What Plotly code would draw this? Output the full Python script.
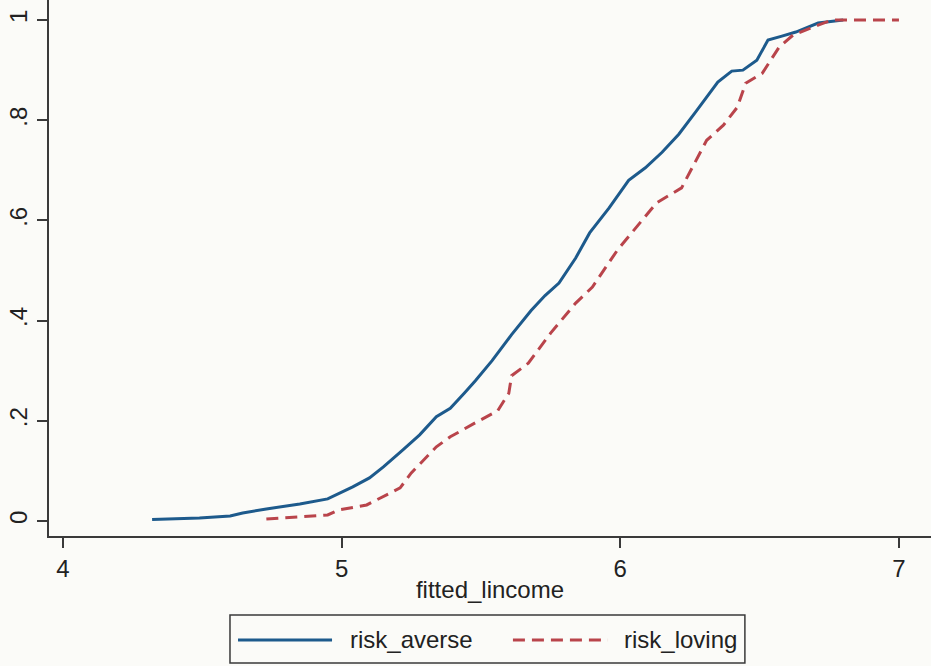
import plotly.graph_objects as go

# risk_averse cumulative distribution (fitted_lincome, cumulative share)
averse_x = [4.32, 4.49, 4.60, 4.645, 4.73, 4.85, 4.95, 5.04, 5.10, 5.15, 5.22, 5.28, 5.34, 5.39,
            5.44, 5.48, 5.54, 5.61, 5.68, 5.73, 5.78, 5.84, 5.89, 5.96, 6.03, 6.09, 6.15, 6.21,
            6.27, 6.35, 6.40, 6.44, 6.49, 6.53, 6.58, 6.63, 6.71, 6.80]
averse_y = [0.003, 0.006, 0.010, 0.016, 0.024, 0.034, 0.044, 0.068, 0.086, 0.108, 0.142, 0.172, 0.208, 0.225,
            0.255, 0.280, 0.320, 0.372, 0.420, 0.450, 0.475, 0.525, 0.575, 0.625, 0.680, 0.705, 0.736, 0.772,
            0.816, 0.876, 0.898, 0.900, 0.920, 0.960, 0.968, 0.976, 0.994, 1.000]

# risk_loving cumulative distribution
loving_x = [4.73, 4.95, 4.99, 5.09, 5.21, 5.25, 5.34, 5.39, 5.48, 5.56, 5.60, 5.61, 5.67, 5.75,
            5.84, 5.90, 5.99, 6.07, 6.13, 6.22, 6.26, 6.31, 6.37, 6.42, 6.45, 6.51, 6.57, 6.62,
            6.71, 6.76, 7.00]
loving_y = [0.004, 0.012, 0.022, 0.032, 0.066, 0.096, 0.148, 0.168, 0.196, 0.220, 0.255, 0.290, 0.315, 0.375,
            0.435, 0.467, 0.541, 0.595, 0.635, 0.665, 0.707, 0.760, 0.790, 0.826, 0.874, 0.894, 0.946, 0.970,
            0.990, 1.000, 1.000]

x_ticks = [4, 5, 6, 7]
y_ticks = [0, 0.2, 0.4, 0.6, 0.8, 1]
y_tick_labels = ["0", ".2", ".4", ".6", ".8", "1"]
series_names = ["risk_averse", "risk_loving"]

BLUE = "#1d5a8c"
RED = "#b9444b"
AXIS = "#3a3a3a"
BG = "#fbfbf8"
FONT = dict(family="Liberation Sans, Arial, sans-serif", size=24, color="#222222")

fig = go.Figure()
fig.add_trace(go.Scatter(x=averse_x, y=averse_y, mode="lines", name=series_names[0],
                         line=dict(color=BLUE, width=3), showlegend=False))
fig.add_trace(go.Scatter(x=loving_x, y=loving_y, mode="lines", name=series_names[1],
                         line=dict(color=RED, width=3, dash="12px,7px"), showlegend=False))

# manual legend (paper coordinates)
fig.add_shape(type="rect", xref="paper", yref="paper", x0=0.2052, x1=0.789, y0=-0.2369, y1=-0.1474,
              line=dict(color=AXIS, width=1.5), fillcolor="rgba(0,0,0,0)")
fig.add_shape(type="line", xref="paper", yref="paper", x0=0.2143, x1=0.3209, y0=-0.194, y1=-0.194,
              line=dict(color=BLUE, width=3))
fig.add_shape(type="line", xref="paper", yref="paper", x0=0.526, x1=0.6338, y0=-0.194, y1=-0.194,
              line=dict(color=RED, width=3, dash="12px,7px"))
fig.add_annotation(text=series_names[0], xref="paper", yref="paper", x=0.339, y=-0.194,
                   xanchor="left", yanchor="middle", showarrow=False, font=FONT)
fig.add_annotation(text=series_names[1], xref="paper", yref="paper", x=0.6497, y=-0.194,
                   xanchor="left", yanchor="middle", showarrow=False, font=FONT)

fig.update_layout(
    width=931, height=666,
    margin=dict(l=49, r=0, t=0, b=130),
    paper_bgcolor=BG, plot_bgcolor=BG,
    font=FONT,
    xaxis=dict(range=[3.95, 7.115], tickvals=x_ticks, ticktext=[str(v) for v in x_ticks],
               showgrid=False, zeroline=False, showline=True, linecolor=AXIS, linewidth=2,
               ticks="outside", ticklen=10, tickwidth=1.5, tickcolor=AXIS,
               title=dict(text="fitted_lincome", standoff=0, font=FONT)),
    yaxis=dict(range=[-0.03, 1.04], tickvals=y_ticks, ticktext=y_tick_labels, tickangle=-90,
               showgrid=False, zeroline=False, showline=True, linecolor=AXIS, linewidth=2,
               ticks="outside", ticklen=10, tickwidth=1.5, tickcolor=AXIS),
)

fig.write_html("out.html", config={"displayModeBar": False})

# remove the default browser body margin so the figure sits at the window origin
with open("out.html", "r", encoding="utf-8") as f:
    html = f.read()
html = html.replace("<head>", "<head><style>html,body{margin:0;padding:0;background:%s;}</style>" % BG, 1)
with open("out.html", "w", encoding="utf-8") as f:
    f.write(html)
